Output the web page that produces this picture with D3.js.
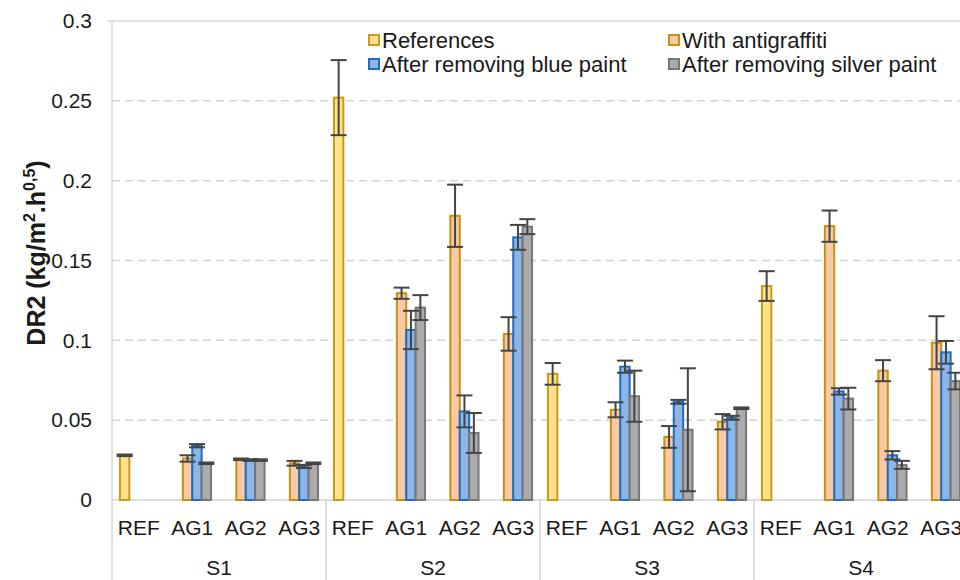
<!DOCTYPE html>
<html>
<head>
<meta charset="utf-8">
<script src="https://cdn.jsdelivr.net/npm/d3@7"></script>
<style>
body { margin: 0; background: #fff; }
svg { display: block; }
text { font-family: "Liberation Sans", Arial, Helvetica, sans-serif; fill: #1a1a1a; }
</style>
</head>
<body>
<script>
// categories
const groups = ['S1', 'S2', 'S3', 'S4']
const treatments = ['REF', 'AG1', 'AG2', 'AG3']
const seriesNames = ['References', 'With antigraffiti', 'After removing blue paint', 'After removing silver paint']
const yTicks = [0, 0.05, 0.1, 0.15, 0.2, 0.25, 0.3]

// values, in order S1 REF..AG3, S2 REF..AG3, ...
const references      = [0.028, null, null, null, 0.252, null, null, null, 0.079, null, null, null, 0.134, null, null, null]
const referencesErr   = [0.0005, null, null, null, 0.0235, null, null, null, 0.0068, null, null, null, 0.0093, null, null, null]
const antigraffiti    = [null, 0.026, 0.0255, 0.023, null, 0.1295, 0.178, 0.104, null, 0.0565, 0.0395, 0.049, null, 0.1715, 0.081, 0.0985]
const antigraffitiErr = [null, 0.002, 0.0005, 0.0015, null, 0.0035, 0.0195, 0.0105, null, 0.0047, 0.0068, 0.0048, null, 0.0098, 0.0066, 0.0166]
const bluePaint       = [null, 0.034, 0.025, 0.021, null, 0.1065, 0.0555, 0.1645, null, 0.0835, 0.0615, 0.0515, null, 0.068, 0.028, 0.0925]
const bluePaintErr    = [null, 0.001, 0.0005, 0.001, null, 0.012, 0.01, 0.0078, null, 0.0038, 0.0012, 0.0012, null, 0.002, 0.0026, 0.0071]
const silverPaint     = [null, 0.023, 0.025, 0.023, null, 0.1205, 0.042, 0.1712, null, 0.065, 0.044, 0.0575, null, 0.0635, 0.022, 0.0745]
const silverPaintErr  = [null, 0.0005, 0.0005, 0.0005, null, 0.0078, 0.0125, 0.0047, null, 0.016, 0.0385, 0.0005, null, 0.0068, 0.0025, 0.0052]

const seriesValues = [references, antigraffiti, bluePaint, silverPaint]
const seriesErrors = [referencesErr, antigraffitiErr, bluePaintErr, silverPaintErr]
const fills   = ['#ffe08c', '#f8c9a6', '#8db6e6', '#ababab']
const strokes = ['#cc9a14', '#c8900e', '#1f6cc4', '#777777']

const width = 960
const height = 580
const plotLeft = 112
const plotTop = 21
const plotBottom = 500

const svg = d3.select('body').append('svg')
    .attr('width', width)
    .attr('height', height)

const xGroup = d3.scaleBand().domain(groups).range([plotLeft, plotLeft + 4 * 214])
const xTreat = d3.scaleBand().domain(treatments).range([0, xGroup.bandwidth()])
const xSeries = d3.scaleBand().domain(seriesNames).range([0, xTreat.bandwidth()]).paddingOuter(0.846)
const y = d3.scaleLinear().domain([0, 0.3]).range([plotBottom, plotTop])

// grid
svg.append('g')
    .selectAll('line')
    .data(yTicks.filter(d => d > 0 && d < 0.3))
    .join('line')
    .attr('x1', plotLeft).attr('x2', width)
    .attr('y1', d => y(d)).attr('y2', d => y(d))
    .attr('stroke', '#d4d4d4')
    .attr('stroke-width', 1.5)
    .attr('stroke-dasharray', '8,5')

svg.append('line')
    .attr('x1', plotLeft - 5).attr('x2', width)
    .attr('y1', y(0.3)).attr('y2', y(0.3))
    .attr('stroke', '#d9d9d9').attr('stroke-width', 1.5)

// y axis labels
const yAxis = svg.append('g')
    .attr('transform', `translate(${plotLeft},0)`)
    .call(d3.axisLeft(y).tickValues(yTicks).tickFormat(d => String(d)).tickSize(0).tickPadding(20))
yAxis.select('.domain').remove()
yAxis.selectAll('text')
    .style('font-size', '21px')
    .style('font-family', '"Liberation Sans", Arial, sans-serif')
    .attr('fill', '#1a1a1a')

svg.append('text')
    .attr('transform', `translate(45, 253) rotate(-90)`)
    .attr('text-anchor', 'middle')
    .style('font-size', '25px')
    .style('font-weight', 'bold')
    .call(t => {
        t.append('tspan').text('DR2 (kg/m')
        t.append('tspan').attr('dy', -10).style('font-size', '16px').text('2')
        t.append('tspan').attr('dy', 10).text('.h')
        t.append('tspan').attr('dy', -10).style('font-size', '16px').text('0,5')
        t.append('tspan').attr('dy', 10).text(')')
    })

// frame lines
svg.append('line')
    .attr('x1', plotLeft).attr('x2', plotLeft)
    .attr('y1', plotTop).attr('y2', height)
    .attr('stroke', '#d4d4d4').attr('stroke-width', 1.5)
svg.append('line')
    .attr('x1', plotLeft).attr('x2', width)
    .attr('y1', plotBottom).attr('y2', plotBottom)
    .attr('stroke', '#d4d4d4').attr('stroke-width', 1.5)
svg.append('g')
    .selectAll('line')
    .data(groups.slice(1))
    .join('line')
    .attr('x1', d => xGroup(d)).attr('x2', d => xGroup(d))
    .attr('y1', plotBottom).attr('y2', height)
    .attr('stroke', '#d4d4d4').attr('stroke-width', 1.5)

// bars
const rows = []
groups.forEach((g, gi) => {
    treatments.forEach((t, ti) => {
        seriesNames.forEach((s, si) => {
            const v = seriesValues[si][gi * 4 + ti]
            if (v != null) rows.push({g, t, s, si, v, e: seriesErrors[si][gi * 4 + ti]})
        })
    })
})

svg.append('g')
    .selectAll('rect')
    .data(rows)
    .join('rect')
    .attr('x', d => xGroup(d.g) + xTreat(d.t) + xSeries(d.s))
    .attr('y', d => y(d.v))
    .attr('width', xSeries.bandwidth())
    .attr('height', d => plotBottom - y(d.v))
    .attr('fill', d => fills[d.si])
    .attr('stroke', d => strokes[d.si])
    .attr('stroke-width', 2)

// error bars
const err = svg.append('g')
    .attr('stroke', '#444')
    .attr('stroke-width', 2)
    .selectAll('g')
    .data(rows)
    .join('g')
    .attr('transform', d => `translate(${xGroup(d.g) + xTreat(d.t) + xSeries(d.s) + xSeries.bandwidth() / 2},0)`)
err.append('line')
    .attr('y1', d => y(d.v + d.e)).attr('y2', d => y(d.v - d.e))
err.append('line')
    .attr('x1', -8).attr('x2', 8)
    .attr('y1', d => y(d.v + d.e)).attr('y2', d => y(d.v + d.e))
err.append('line')
    .attr('x1', -8).attr('x2', 8)
    .attr('y1', d => y(d.v - d.e)).attr('y2', d => y(d.v - d.e))

// x labels
groups.forEach(g => {
    svg.append('g')
        .selectAll('text')
        .data(treatments)
        .join('text')
        .attr('x', t => xGroup(g) + xTreat(t) + xTreat.bandwidth() / 2)
        .attr('y', 535)
        .attr('text-anchor', 'middle')
        .style('font-size', '21px')
        .text(t => t)
})
svg.append('g')
    .selectAll('text')
    .data(groups)
    .join('text')
    .attr('x', g => xGroup(g) + xGroup.bandwidth() / 2)
    .attr('y', 575)
    .attr('text-anchor', 'middle')
    .style('font-size', '21px')
    .text(g => g)

// legend
const legendPos = [[369, 40], [669, 40], [369, 64], [669, 64]]
const legend = svg.append('g')
    .selectAll('g')
    .data(seriesNames)
    .join('g')
    .attr('transform', (d, i) => `translate(${legendPos[i][0]},${legendPos[i][1]})`)
legend.append('rect')
    .attr('x', 0).attr('y', -5)
    .attr('width', 10).attr('height', 10)
    .attr('fill', (d, i) => fills[i])
    .attr('stroke', (d, i) => strokes[i])
    .attr('stroke-width', 2)
legend.append('text')
    .attr('x', 13).attr('y', 8)
    .style('font-size', '22px')
    .text(d => d)
</script>
</body>
</html>
